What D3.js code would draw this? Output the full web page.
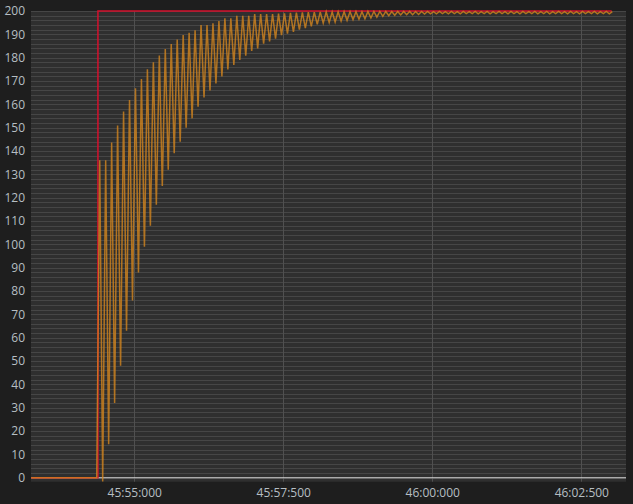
<!DOCTYPE html>
<html>
<head>
<meta charset="utf-8">
<script src="https://cdn.jsdelivr.net/npm/d3@7"></script>
<style>
  html, body { margin: 0; padding: 0; background: #1e1e1e; }
  svg { display: block; }
  .axis text { font-family: "Open Sans", sans-serif; font-size: 12px; fill: #b6bec3; }
</style>
</head>
<body>
<div id="chart"></div>
<script>
// times are seconds past 45:00
var xTicks = [55.0, 57.5, 60.0, 62.5];
var yTicks = [0, 10, 20, 30, 40, 50, 60, 70, 80, 90, 100, 110, 120, 130, 140, 150, 160, 170, 180, 190, 200];

// setpoint (red)
var setTimes = [53.27, 54.39, 54.39, 63.01];
var setValues = [0, 0, 200, 200];

// process value (orange): flat lead-in, then samples every 50 ms
var pvLeadTimes = [53.27, 54.37];
var pvLeadValues = [0, 0];
var pvStart = 54.42;
var pvStep = 0.05;
var pvValues = [
  136, -1.6, 136, 14.3, 143.7, 32, 150.9, 48, 156.9, 63,
  161.9, 76, 166.9, 88, 170.9, 99, 175, 108, 178, 117,
  180.9, 125, 183.7, 132, 185.9, 139, 187.8, 144, 189.7, 150,
  190.7, 154, 191.7, 159, 194, 162.9, 194, 165.9, 194.7, 169,
  195.7, 171.9, 196.9, 174.9, 196.9, 176.9, 197.9, 179, 197.9, 180.9,
  197.9, 182.9, 198.7, 184, 198.7, 186, 198.7, 187, 198.7, 188.2,
  198.9, 189.6, 199, 190.3, 199.2, 191, 199.3, 192, 199.4, 192.7,
  199.5, 193.4, 199.5, 194.3, 199.6, 194.8, 199.6, 195.1, 199.6, 195.3,
  199.7, 195.7, 199.7, 196, 199.7, 196.3, 199.7, 196.5, 199.7, 196.7,
  199.8, 197, 199.8, 197.4, 199.8, 197.7, 199.8, 198, 199.8, 198.2,
  199.8, 198.3, 199.8, 198.4, 199.8, 198.4, 199.8, 198.5, 199.8, 198.7,
  199.8, 198.8, 199.7, 198.8, 199.8, 198.9, 199.7, 198.8, 199.8, 198.9,
  199.7, 198.8, 199.8, 198.9, 199.7, 198.9, 199.8, 198.8, 199.7, 198.9,
  199.8, 198.8, 199.7, 198.9, 199.8, 198.9, 199.7, 198.8, 199.8, 198.9,
  199.7, 198.8, 199.8, 198.9, 199.7, 198.9, 199.8, 198.8, 199.7, 198.9,
  199.8, 198.8, 199.7, 198.9, 199.8, 198.9, 199.7, 198.8, 199.8, 198.9,
  199.7, 198.8, 199.8, 198.9, 199.7, 198.9, 199.8, 198.8, 199.7, 198.9,
  199.8, 198.8, 199.7
];

var width = 633;
var height = 504;
var plotLeft = 31, plotRight = 626, plotTop = 11, plotBottom = 481.7;

var svg = d3.select("#chart")
  .append("svg")
    .attr("width", width)
    .attr("height", height);

var x = d3.scaleLinear().domain([53.267, 63.25]).range([plotLeft, plotRight]);
var y = d3.scaleLinear().domain([-1.7, 200]).range([plotBottom, plotTop]);

function fmt(s) {
  var m = 45 + Math.floor(s / 60);
  var sec = s % 60;
  var whole = Math.floor(sec + 1e-6);
  var ms = Math.round((sec - whole) * 1000);
  return m + ":" + d3.format("02")(whole) + ":" + d3.format("03")(ms);
}

// plot background
svg.append("rect")
  .attr("x", plotLeft).attr("y", plotTop)
  .attr("width", plotRight - plotLeft).attr("height", plotBottom - plotTop)
  .attr("fill", "#2f2f2f");

// minor horizontal grid
svg.append("g")
  .selectAll("line")
  .data(d3.range(0, 201, 2))
  .enter().append("line")
    .attr("x1", plotLeft).attr("x2", plotRight)
    .attr("y1", d => Math.round(y(d)) + 0.5)
    .attr("y2", d => Math.round(y(d)) + 0.5)
    .attr("stroke", "#464646")
    .attr("stroke-width", 1);

// vertical grid at x ticks
svg.append("g")
  .selectAll("line")
  .data(xTicks)
  .enter().append("line")
    .attr("x1", d => Math.round(x(d)) + 0.5)
    .attr("x2", d => Math.round(x(d)) + 0.5)
    .attr("y1", plotTop).attr("y2", plotBottom)
    .attr("stroke", "#505050")
    .attr("stroke-width", 1);

// zero line
svg.append("line")
  .attr("x1", plotLeft).attr("x2", plotRight)
  .attr("y1", y(0)).attr("y2", y(0))
  .attr("stroke", "#d6d6d6")
  .attr("stroke-width", 1.2);

// axes
svg.append("g")
  .attr("class", "axis")
  .attr("transform", "translate(" + plotLeft + ",0)")
  .call(d3.axisLeft(y).tickValues(yTicks).tickSize(0).tickPadding(6))
  .call(g => g.select(".domain").remove());

svg.append("g")
  .attr("class", "axis")
  .attr("transform", "translate(0," + plotBottom + ")")
  .call(d3.axisBottom(x).tickValues(xTicks).tickFormat(fmt).tickSize(0).tickPadding(7))
  .call(g => g.select(".domain").remove());

// series
var setData = setTimes.map((t, i) => [t, setValues[i]]);
var pvData = pvLeadTimes.map((t, i) => [t, pvLeadValues[i]])
  .concat(pvValues.map((v, i) => [pvStart + i * pvStep, v]));

var line = d3.line()
  .x(d => x(d[0]))
  .y(d => y(d[1]));

svg.append("path")
  .datum(setData)
  .attr("d", line)
  .attr("fill", "none")
  .attr("stroke", "#d3102c")
  .attr("stroke-width", 1.5);

svg.append("path")
  .datum(pvData)
  .attr("d", line)
  .attr("fill", "none")
  .attr("stroke", "#d2851e")
  .attr("stroke-opacity", 0.8)
  .attr("stroke-width", 1.5);
</script>
</body>
</html>
